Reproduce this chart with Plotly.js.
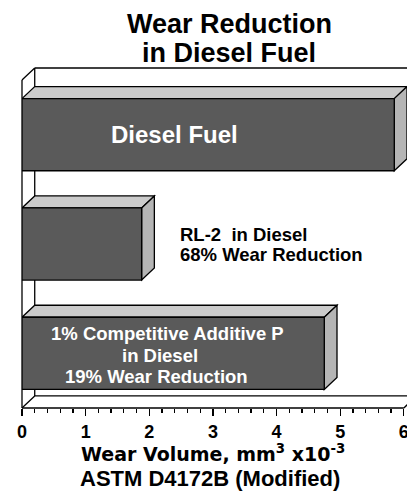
<!DOCTYPE html>
<html><head><meta charset="utf-8">
<script src="https://cdn.plot.ly/plotly-3.0.1.min.js"></script>
<style>html,body{margin:0;padding:0;overflow:hidden;background:#fff}</style>
</head><body>
<div id="chart" style="width:407px;height:498px"></div>
<script>
// ---- data ----
const categories = ["Diesel Fuel", "RL-2 in Diesel", "1% Competitive Additive P in Diesel"];
const wearVolume = [5.85, 1.88, 4.75];          // mm^3 x10^-3
const labelLines = [
  ["Diesel Fuel"],
  ["RL-2\u00a0 in Diesel", "68% Wear Reduction"],
  ["1% Competitive Additive P", "in Diesel", "19% Wear Reduction"]
];
const titleLines = ["Wear Reduction", "in Diesel Fuel"];
const axisTitleLines = ["Wear Volume, mm<sup>3</sup> x10<sup>-3</sup>", "ASTM D4172B (Modified)"];
const tickVals = [0, 1, 2, 3, 4, 5, 6];
const tickText = ["0", "1", "2", "3", "4", "5", "6"];

// ---- styling constants ----
const FONT = "Arial, 'Liberation Sans', sans-serif";
const XR = [0, 6.05];
const YR = [2.5, -0.61];
const DX = 0.2, DY = 0.11;      // 3-D depth offsets in axis units
const BW = 0.66;                 // bar thickness
const FRONT = "#5a5a5a", TOP = "#cbcbcb", SIDE = "#b5b5b5";
const LW = 1.3;

const pos = categories.map((c, i) => i);
const fx = v => (v - XR[0]) / (XR[1] - XR[0]);
const fy = v => (v - YR[0]) / (YR[1] - YR[0]);

const shapes = [];
const xmax = tickVals[tickVals.length - 1];
function frameLine(x0, y0, x1, y1) {
  shapes.push({type: "line", layer: "below", xref: "x domain", yref: "y domain",
    x0: fx(x0), y0: fy(y0), x1: fx(x1), y1: fy(y1),
    line: {color: "#000", width: LW}});
}
const yTop = pos[0] - 0.5, yBot = pos[pos.length - 1] + 0.5;
frameLine(0, yTop, 0, yBot);
frameLine(DX, yTop - DY, DX, yBot - DY);
frameLine(0, yTop, DX, yTop - DY);
frameLine(0, yBot, DX, yBot - DY);
frameLine(DX, yTop - DY, xmax + DX + 1, yTop - DY);
frameLine(DX, yBot - DY, xmax + DX + 1, yBot - DY);
frameLine(0, yBot, xmax, yBot);
frameLine(xmax, yBot, xmax + DX, yBot - DY);

// 3-D faces of each bar
pos.forEach((p, i) => {
  const v = wearVolume[i];
  const t = p - BW / 2, b = p + BW / 2;
  shapes.push({type: "path", layer: "below", xref: "x", yref: "y",
    path: `M0,${t} L${DX},${t - DY} L${v + DX},${t - DY} L${v},${t} Z`,
    fillcolor: TOP, line: {color: "#000", width: LW}});
  shapes.push({type: "path", layer: "below", xref: "x", yref: "y",
    path: `M${v},${t} L${v + DX},${t - DY} L${v + DX},${b - DY} L${v},${b} Z`,
    fillcolor: SIDE, line: {color: "#000", width: LW}});
});

// bar labels (x positions per line, in axis units)
const labelCfg = [
  {xs: [2.39], anchor: "center", color: "#fff", size: 24, shifts: [0]},
  {xs: [2.45, 2.45], anchor: "left", color: "#000", size: 18.5, shifts: [10, -10]},
  {xs: [2.29, 2.17, 2.12], anchor: "center", color: "#fff", size: 18.5, shifts: [20, -2, -23]}
];
const annotations = [];
labelLines.forEach((lines, i) => {
  const c = labelCfg[i];
  lines.forEach((ln, j) => {
    annotations.push({x: c.xs[j], y: pos[i], xref: "x", yref: "y", text: "<b>" + ln + "</b>",
      showarrow: false, xanchor: c.anchor, yanchor: "middle", yshift: c.shifts[j],
      font: {family: FONT, size: c.size, color: c.color}});
  });
});
// chart title, two lines
[1.13, 1.044].forEach((py, j) => {
  annotations.push({x: 0.538, y: py, xref: "paper", yref: "paper", xanchor: "center", yanchor: "middle",
    showarrow: false, text: "<b>" + titleLines[j] + "</b>",
    font: {family: FONT, size: 27, color: "#000"}});
});
// x-axis title, two lines
annotations.push({x: 0.497, y: 0, xref: "paper", yref: "paper", xanchor: "center", yanchor: "top",
  yshift: -32, borderpad: 0, showarrow: false, text: axisTitleLines[0],
  font: {family: "'DejaVu Sans', sans-serif", size: 19, color: "#000", weight: "bold"}});
annotations.push({x: 0.488, y: 0, xref: "paper", yref: "paper", xanchor: "center", yanchor: "bottom",
  yshift: -84, borderpad: 0, showarrow: false, text: "<b>" + axisTitleLines[1] + "</b>",
  font: {family: FONT, size: 22, color: "#000"}});

const trace = {
  type: "bar", orientation: "h", x: wearVolume, y: pos, width: BW,
  marker: {color: FRONT, line: {color: "#000", width: LW}},
  hoverinfo: "skip"
};

const layout = {
  width: 407, height: 498,
  margin: {l: 22, r: 0, t: 68, b: 90, pad: 0},
  paper_bgcolor: "#fff", plot_bgcolor: "rgba(0,0,0,0)",
  showlegend: false,
  xaxis: {range: XR, showgrid: false, zeroline: false, showline: false,
    tickmode: "array", tickvals: tickVals, ticktext: tickText,
    ticks: "outside", ticklen: 7, tickwidth: LW, tickcolor: "#000",
    minor: {dtick: 0.2, ticks: "outside", ticklen: 4, tickwidth: LW, tickcolor: "#000", showgrid: false},
    ticklabeloverflow: "allow",
    tickfont: {family: FONT, size: 18, color: "#000", weight: "bold"}},
  yaxis: {range: YR, showgrid: false, zeroline: false, showline: false, showticklabels: false, ticks: ""},
  shapes: shapes,
  annotations: annotations
};

Plotly.newPlot("chart", [trace], layout, {displayModeBar: false, staticPlot: true});
</script>
</body></html>
